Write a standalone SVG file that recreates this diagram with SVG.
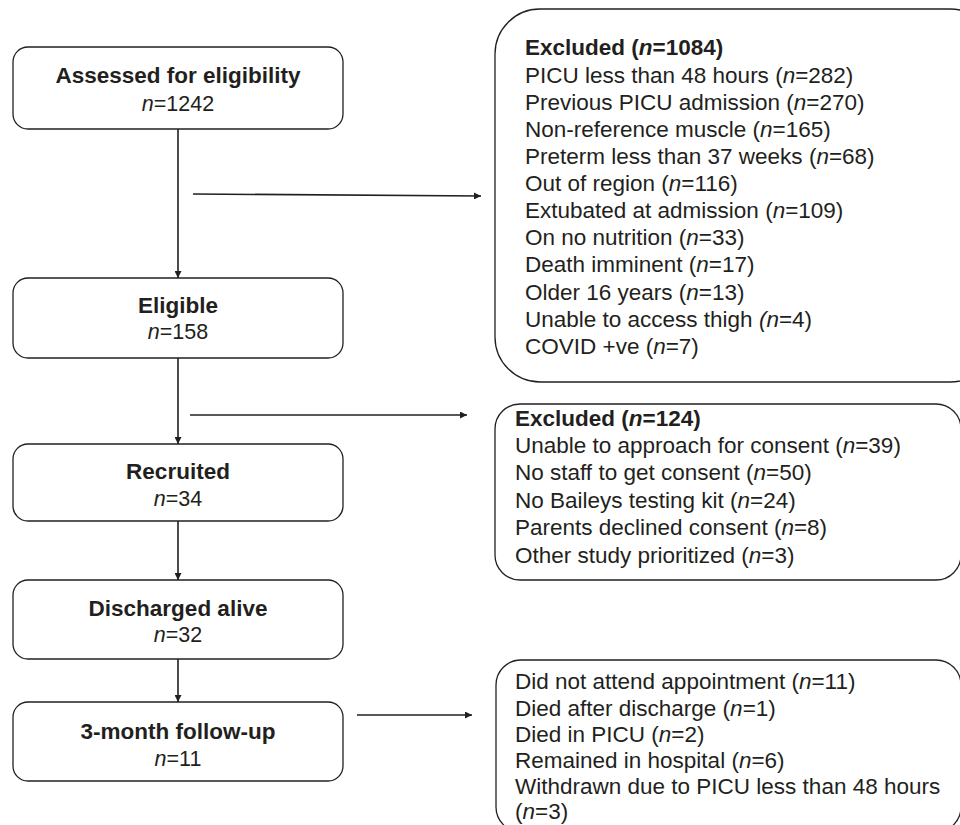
<svg xmlns="http://www.w3.org/2000/svg" width="960" height="825" viewBox="0 0 960 825">
<defs>
<style>
.box{fill:#fff;stroke:#231f20;stroke-width:1.3}
.t{font-family:"Liberation Sans",Arial,sans-serif;font-size:22.5px;fill:#231f20}
.n{font-size:21.5px}
.b{font-weight:bold}
.c{text-anchor:middle}
.ln{stroke:#231f20;stroke-width:1.6;fill:none}
</style>
<marker id="ah" viewBox="0 0 10 10" refX="10" refY="5" markerWidth="9" markerHeight="7" markerUnits="userSpaceOnUse" orient="auto">
<path d="M0,0 L10,5 L0,10 z" fill="#231f20"/>
</marker>
</defs>
<rect width="960" height="825" fill="#fff"/>
<g id="connectors">
<line class="ln" x1="178" y1="129" x2="178" y2="278" marker-end="url(#ah)"/>
<line class="ln" x1="178" y1="358" x2="178" y2="444" marker-end="url(#ah)"/>
<line class="ln" x1="178" y1="520" x2="178" y2="580" marker-end="url(#ah)"/>
<line class="ln" x1="178" y1="659" x2="178" y2="702" marker-end="url(#ah)"/>
<line class="ln" x1="193" y1="194" x2="481" y2="196" marker-end="url(#ah)"/>
<line class="ln" x1="190" y1="415" x2="467" y2="415" marker-end="url(#ah)"/>
<line class="ln" x1="357" y1="715" x2="472" y2="715" marker-end="url(#ah)"/>
</g>
<g id="assessed">
<rect class="box" x="13" y="47" width="330" height="82" rx="15"/>
<text class="t b c" x="178" y="83">Assessed for eligibility</text>
<text class="t n c" x="178" y="111"><tspan font-style="italic">n</tspan>=1242</text>
</g>
<g id="eligible">
<rect class="box" x="13" y="278" width="330" height="80" rx="15"/>
<text class="t b c" x="178" y="313">Eligible</text>
<text class="t n c" x="178" y="339"><tspan font-style="italic">n</tspan>=158</text>
</g>
<g id="recruited">
<rect class="box" x="13" y="444" width="330" height="77" rx="15"/>
<text class="t b c" x="178" y="479">Recruited</text>
<text class="t n c" x="178" y="506"><tspan font-style="italic">n</tspan>=34</text>
</g>
<g id="discharged">
<rect class="box" x="13" y="580" width="330" height="79" rx="15"/>
<text class="t b c" x="178" y="616">Discharged alive</text>
<text class="t n c" x="178" y="642"><tspan font-style="italic">n</tspan>=32</text>
</g>
<g id="followup">
<rect class="box" x="13" y="702" width="330" height="79" rx="15"/>
<text class="t b c" x="178" y="739">3-month follow-up</text>
<text class="t n c" x="178" y="766"><tspan font-style="italic">n</tspan>=11</text>
</g>
<g id="excluded1">
<rect class="box" x="495" y="9" width="500" height="373" rx="45"/>
<text class="t" x="525" y="55"><tspan class="b">Excluded (<tspan font-style="italic">n</tspan>=1084)</tspan></text>
<text class="t" x="525" y="83">PICU less than 48 hours (<tspan font-style="italic">n</tspan>=282)</text>
<text class="t" x="525" y="110">Previous PICU admission (<tspan font-style="italic">n</tspan>=270)</text>
<text class="t" x="525" y="137">Non-reference muscle (<tspan font-style="italic">n</tspan>=165)</text>
<text class="t" x="525" y="164">Preterm less than 37 weeks (<tspan font-style="italic">n</tspan>=68)</text>
<text class="t" x="525" y="191">Out of region (<tspan font-style="italic">n</tspan>=116)</text>
<text class="t" x="525" y="218">Extubated at admission (<tspan font-style="italic">n</tspan>=109)</text>
<text class="t" x="525" y="245">On no nutrition (<tspan font-style="italic">n</tspan>=33)</text>
<text class="t" x="525" y="272">Death imminent (<tspan font-style="italic">n</tspan>=17)</text>
<text class="t" x="525" y="300">Older 16 years (<tspan font-style="italic">n</tspan>=13)</text>
<text class="t" x="525" y="327">Unable to access thigh <tspan font-style="italic">(n</tspan>=4)</text>
<text class="t" x="525" y="354">COVID +ve (<tspan font-style="italic">n</tspan>=7)</text>
</g>
<g id="excluded2">
<rect class="box" x="495" y="404" width="466" height="176" rx="25"/>
<text class="t" x="515" y="426"><tspan class="b">Excluded (<tspan font-style="italic">n</tspan>=124)</tspan></text>
<text class="t" x="515" y="453">Unable to approach for consent (<tspan font-style="italic">n</tspan>=39)</text>
<text class="t" x="515" y="480">No staff to get consent (<tspan font-style="italic">n</tspan>=50)</text>
<text class="t" x="515" y="508">No Baileys testing kit (<tspan font-style="italic">n</tspan>=24)</text>
<text class="t" x="515" y="535">Parents declined consent (<tspan font-style="italic">n</tspan>=8)</text>
<text class="t" x="515" y="563">Other study prioritized (<tspan font-style="italic">n</tspan>=3)</text>
</g>
<g id="lost">
<rect class="box" x="496" y="660" width="465" height="172" rx="25"/>
<text class="t" x="515" y="689">Did not attend appointment (<tspan font-style="italic">n</tspan>=11)</text>
<text class="t" x="515" y="716">Died after discharge (<tspan font-style="italic">n</tspan>=1)</text>
<text class="t" x="515" y="742">Died in PICU (<tspan font-style="italic">n</tspan>=2)</text>
<text class="t" x="515" y="768">Remained in hospital (<tspan font-style="italic">n</tspan>=6)</text>
<text class="t" x="515" y="794">Withdrawn due to PICU less than 48 hours</text>
<text class="t" x="515" y="819">(<tspan font-style="italic">n</tspan>=3)</text>
</g>
</svg>
